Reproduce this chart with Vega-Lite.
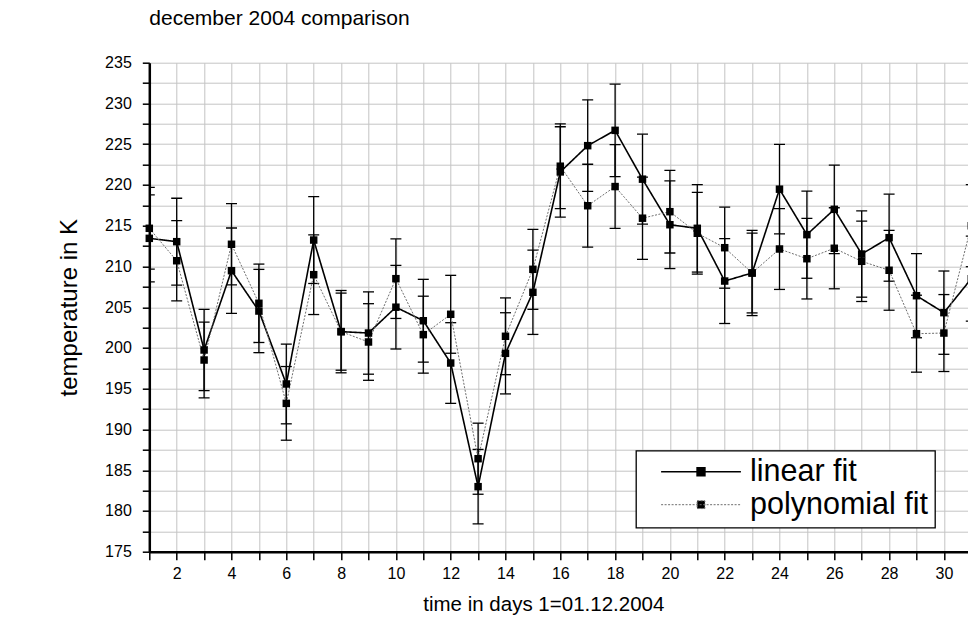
{
  "$schema": "https://vega.github.io/schema/vega-lite/v6.json",
  "width": 818.7,
  "height": 489,
  "autosize": {"type": "none"},
  "padding": {"left": 149.3, "top": 62.7, "right": 0, "bottom": 79.3},
  "background": "white",
  "config": {
    "font": "Liberation Sans",
    "view": {"stroke": null},
    "axis": {
      "domainColor": "black", "domainWidth": 2.5,
      "tickColor": "black", "tickWidth": 1.5,
      "labelColor": "black", "labelFontSize": 16, "labelFont": "Liberation Sans",
      "titleColor": "black", "titleFontWeight": "normal", "titleFont": "Liberation Sans",
      "gridColor": "#c4c4c4", "gridWidth": 1, "gridOpacity": 1,
      "labelOverlap": false, "labelFlush": false
    }
  },
  "title": {
    "text": "december 2004 comparison", "anchor": "start", "frame": "group",
    "fontSize": 21, "fontWeight": "normal", "font": "Liberation Sans", "color": "black",
    "baseline": "alphabetic", "offset": 9
  },
  "data": {"values": [
    {"day": 1, "series": "linear fit", "value": 213.45, "lo": 208.11, "hi": 218.79},
    {"day": 2, "series": "linear fit", "value": 213.04, "lo": 207.71, "hi": 218.37},
    {"day": 3, "series": "linear fit", "value": 199.75, "lo": 194.76, "hi": 204.74},
    {"day": 4, "series": "linear fit", "value": 209.48, "lo": 204.24, "hi": 214.72},
    {"day": 5, "series": "linear fit", "value": 204.53, "lo": 199.42, "hi": 209.64},
    {"day": 6, "series": "linear fit", "value": 195.58, "lo": 190.69, "hi": 200.47},
    {"day": 7, "series": "linear fit", "value": 213.24, "lo": 207.91, "hi": 218.57},
    {"day": 8, "series": "linear fit", "value": 202.0, "lo": 196.95, "hi": 207.05},
    {"day": 9, "series": "linear fit", "value": 201.83, "lo": 196.78, "hi": 206.88},
    {"day": 10, "series": "linear fit", "value": 205.0, "lo": 199.87, "hi": 210.13},
    {"day": 11, "series": "linear fit", "value": 203.34, "lo": 198.26, "hi": 208.42},
    {"day": 12, "series": "linear fit", "value": 198.15, "lo": 193.2, "hi": 203.1},
    {"day": 13, "series": "linear fit", "value": 182.98, "lo": 178.41, "hi": 187.55},
    {"day": 14, "series": "linear fit", "value": 199.34, "lo": 194.36, "hi": 204.32},
    {"day": 15, "series": "linear fit", "value": 206.83, "lo": 201.66, "hi": 212.0},
    {"day": 16, "series": "linear fit", "value": 221.6, "lo": 216.06, "hi": 227.14},
    {"day": 17, "series": "linear fit", "value": 224.82, "lo": 219.2, "hi": 230.44},
    {"day": 18, "series": "linear fit", "value": 226.7, "lo": 221.03, "hi": 232.37},
    {"day": 19, "series": "linear fit", "value": 220.71, "lo": 215.19, "hi": 226.23},
    {"day": 20, "series": "linear fit", "value": 215.12, "lo": 209.74, "hi": 220.5},
    {"day": 21, "series": "linear fit", "value": 214.68, "lo": 209.31, "hi": 220.05},
    {"day": 22, "series": "linear fit", "value": 208.21, "lo": 203.0, "hi": 213.42},
    {"day": 23, "series": "linear fit", "value": 209.2, "lo": 203.97, "hi": 214.43},
    {"day": 24, "series": "linear fit", "value": 219.48, "lo": 213.99, "hi": 224.97},
    {"day": 25, "series": "linear fit", "value": 213.9, "lo": 208.55, "hi": 219.25},
    {"day": 26, "series": "linear fit", "value": 217.01, "lo": 211.58, "hi": 222.44},
    {"day": 27, "series": "linear fit", "value": 211.52, "lo": 206.23, "hi": 216.81},
    {"day": 28, "series": "linear fit", "value": 213.53, "lo": 208.19, "hi": 218.87},
    {"day": 29, "series": "linear fit", "value": 206.41, "lo": 201.25, "hi": 211.57},
    {"day": 30, "series": "linear fit", "value": 204.33, "lo": 199.22, "hi": 209.44},
    {"day": 31, "series": "linear fit", "value": 208.5, "lo": 203.29, "hi": 213.71},
    {"day": 1, "series": "polynomial fit", "value": 214.68, "lo": 209.66, "hi": 219.7},
    {"day": 2, "series": "polynomial fit", "value": 210.7, "lo": 205.77, "hi": 215.63},
    {"day": 3, "series": "polynomial fit", "value": 198.52, "lo": 193.87, "hi": 203.17},
    {"day": 4, "series": "polynomial fit", "value": 212.72, "lo": 207.74, "hi": 217.7},
    {"day": 5, "series": "polynomial fit", "value": 205.48, "lo": 200.67, "hi": 210.29},
    {"day": 6, "series": "polynomial fit", "value": 193.2, "lo": 188.68, "hi": 197.72},
    {"day": 7, "series": "polynomial fit", "value": 208.99, "lo": 204.1, "hi": 213.88},
    {"day": 8, "series": "polynomial fit", "value": 202.0, "lo": 197.27, "hi": 206.73},
    {"day": 9, "series": "polynomial fit", "value": 200.73, "lo": 196.03, "hi": 205.43},
    {"day": 10, "series": "polynomial fit", "value": 208.5, "lo": 203.62, "hi": 213.38},
    {"day": 11, "series": "polynomial fit", "value": 201.63, "lo": 196.91, "hi": 206.35},
    {"day": 12, "series": "polynomial fit", "value": 204.13, "lo": 199.35, "hi": 208.91},
    {"day": 13, "series": "polynomial fit", "value": 186.41, "lo": 182.05, "hi": 190.77},
    {"day": 14, "series": "polynomial fit", "value": 201.43, "lo": 196.72, "hi": 206.14},
    {"day": 15, "series": "polynomial fit", "value": 209.65, "lo": 204.74, "hi": 214.56},
    {"day": 16, "series": "polynomial fit", "value": 222.3, "lo": 217.1, "hi": 227.5},
    {"day": 17, "series": "polynomial fit", "value": 217.45, "lo": 212.36, "hi": 222.54},
    {"day": 18, "series": "polynomial fit", "value": 219.8, "lo": 214.66, "hi": 224.94},
    {"day": 19, "series": "polynomial fit", "value": 215.92, "lo": 210.87, "hi": 220.97},
    {"day": 20, "series": "polynomial fit", "value": 216.72, "lo": 211.65, "hi": 221.79},
    {"day": 21, "series": "polynomial fit", "value": 214.07, "lo": 209.06, "hi": 219.08},
    {"day": 22, "series": "polynomial fit", "value": 212.3, "lo": 207.33, "hi": 217.27},
    {"day": 23, "series": "polynomial fit", "value": 209.2, "lo": 204.3, "hi": 214.1},
    {"day": 24, "series": "polynomial fit", "value": 212.14, "lo": 207.18, "hi": 217.1},
    {"day": 25, "series": "polynomial fit", "value": 210.95, "lo": 206.01, "hi": 215.89},
    {"day": 26, "series": "polynomial fit", "value": 212.23, "lo": 207.26, "hi": 217.2},
    {"day": 27, "series": "polynomial fit", "value": 210.63, "lo": 205.7, "hi": 215.56},
    {"day": 28, "series": "polynomial fit", "value": 209.53, "lo": 204.63, "hi": 214.43},
    {"day": 29, "series": "polynomial fit", "value": 201.75, "lo": 197.03, "hi": 206.47},
    {"day": 30, "series": "polynomial fit", "value": 201.83, "lo": 197.11, "hi": 206.55},
    {"day": 31, "series": "polynomial fit", "value": 215.0, "lo": 209.97, "hi": 220.03}
  ]},
  "encoding": {
    "x": {
      "field": "day", "type": "quantitative",
      "scale": {"domain": [1, 30.88], "nice": false, "zero": false},
      "axis": {
        "title": "time in days 1=01.12.2004", "titleFontSize": 20.5, "titlePadding": 13,
        "titleX": 394, "titleAlign": "center",
        "values": [1,2,3,4,5,6,7,8,9,10,11,12,13,14,15,16,17,18,19,20,21,22,23,24,25,26,27,28,29,30],
        "labelExpr": "datum.value % 2 === 0 ? datum.label : ''",
        "tickSize": 8, "labelPadding": 6, "grid": true
      }
    },
    "y": {
      "field": "value", "type": "quantitative",
      "scale": {"domain": [175, 235], "nice": false, "zero": false},
      "axis": {
        "title": "temperature in K", "titleFontSize": 24, "titlePadding": 23,
        "values": [175,177.5,180,182.5,185,187.5,190,192.5,195,197.5,200,202.5,205,207.5,210,212.5,215,217.5,220,222.5,225,227.5,230,232.5,235],
        "labelExpr": "datum.value % 5 === 0 ? datum.label : ''",
        "tickSize": 7, "labelPadding": 11, "grid": true
      }
    }
  },
  "layer": [
    {
      "mark": {"type": "rule", "color": "black", "strokeWidth": 1.3, "clip": true},
      "encoding": {"y": {"field": "lo", "type": "quantitative"}, "y2": {"field": "hi"}}
    },
    {
      "mark": {"type": "tick", "orient": "horizontal", "size": 11, "thickness": 1.3, "color": "black", "opacity": 1, "clip": true},
      "encoding": {"y": {"field": "lo", "type": "quantitative"}}
    },
    {
      "mark": {"type": "tick", "orient": "horizontal", "size": 11, "thickness": 1.3, "color": "black", "opacity": 1, "clip": true},
      "encoding": {"y": {"field": "hi", "type": "quantitative"}}
    },
    {
      "mark": {"type": "line", "clip": true},
      "encoding": {
        "stroke": {
          "field": "series", "type": "nominal",
          "scale": {"domain": ["linear fit", "polynomial fit"], "range": ["#000000", "#6e6e6e"]},
          "legend": {
            "title": null, "orient": "none", "legendX": 486.7, "legendY": 388,
            "direction": "vertical",
            "fillColor": "white", "strokeColor": "black",
            "padding": 7, "clipHeight": 28, "rowPadding": 2,
            "symbolType": "M-0.7,0H0.7M-0.068,-0.068H0.068V0.068H-0.068Z",
            "symbolSize": 12996, "symbolFillColor": "black", "symbolStrokeWidth": 1.3,
            "labelFontSize": 30.5, "labelFont": "Liberation Sans", "labelColor": "black",
            "labelOffset": -9, "labelLimit": 400,
            "labelExpr": "datum.label + '\u2002'",
            "encode": {"legend": {"update": {"strokeWidth": {"value": 1.3}}}}
          }
        },
        "strokeDash": {
          "field": "series", "type": "nominal",
          "scale": {"domain": ["linear fit", "polynomial fit"], "range": [[1, 0], [2, 1.5]]},
          "legend": null
        },
        "strokeWidth": {
          "field": "series", "type": "nominal",
          "scale": {"domain": ["linear fit", "polynomial fit"], "range": [1.6, 1]},
          "legend": null
        }
      }
    },
    {
      "mark": {"type": "square", "size": 56, "filled": true, "color": "black", "opacity": 1},
      "encoding": {"detail": {"field": "series"}}
    },
    {
      "data": {"values": [{}]},
      "mark": {"type": "rule", "color": "black", "strokeWidth": 2.5},
      "encoding": {"y": {"datum": 235}}
    }
  ]
}
